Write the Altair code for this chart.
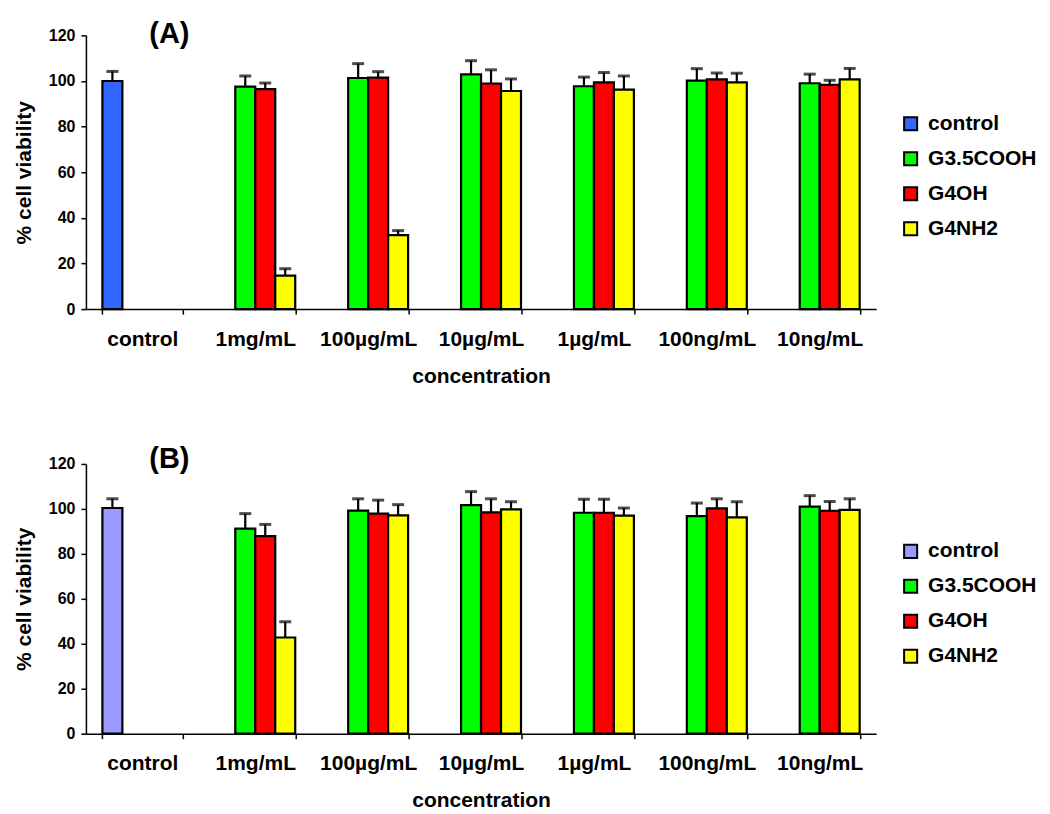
import altair as alt
import pandas as pd

concentrations = ["control", "1mg/mL", "100µg/mL", "10µg/mL", "1µg/mL", "100ng/mL", "10ng/mL"]
doses = concentrations[1:]
series_order = ["control", "G3.5COOH", "G4OH", "G4NH2"]

# Panel A
a_control = [100.0]
a_control_err = [4.2]
a_g35 = [97.5, 101.3, 102.9, 97.7, 100.2, 99.0]
a_g35_err = [4.7, 6.3, 6.0, 4.0, 5.2, 4.0]
a_g4oh = [96.4, 101.5, 98.9, 99.4, 100.7, 98.3]
a_g4oh_err = [2.7, 2.6, 6.0, 4.3, 2.8, 2.0]
a_g4nh2 = [14.7, 32.4, 95.6, 96.2, 99.4, 100.7]
a_g4nh2_err = [3.0, 2.0, 5.3, 6.0, 4.0, 4.8]

# Panel B
b_control = [100.4]
b_control_err = [4.1]
b_g35 = [91.2, 99.2, 101.7, 98.3, 96.8, 101.0]
b_g35_err = [6.7, 5.3, 6.0, 6.0, 5.8, 4.9]
b_g4oh = [87.9, 97.9, 98.5, 98.3, 100.2, 99.1]
b_g4oh_err = [5.2, 6.0, 6.0, 6.0, 4.3, 4.2]
b_g4nh2 = [42.8, 97.1, 99.8, 97.0, 96.2, 99.6]
b_g4nh2_err = [7.0, 4.8, 3.4, 3.4, 7.0, 4.9]

colors_a = ["#3366FF", "#00FF00", "#FF0000", "#FFFF00"]
colors_b = ["#9999FF", "#00FF00", "#FF0000", "#FFFF00"]

FONT = "Liberation Sans"


def make_df(ctrl, ctrl_err, g35, g35_err, g4oh, g4oh_err, g4nh2, g4nh2_err):
    rows = [{"conc": "control", "series": "control", "value": ctrl[0], "err": ctrl_err[0]}]
    for name, vals, errs in [("G3.5COOH", g35, g35_err), ("G4OH", g4oh, g4oh_err), ("G4NH2", g4nh2, g4nh2_err)]:
        for d, v, e in zip(doses, vals, errs):
            rows.append({"conc": d, "series": name, "value": v, "err": e})
    return pd.DataFrame(rows)


def panel(df, colors, label, label_y, legend_y, height):
    base = alt.Chart(df).transform_calculate(top="datum.value + datum.err")
    x = alt.X(
        "conc:N",
        sort=concentrations,
        scale=alt.Scale(paddingInner=0.292, paddingOuter=0.146),
        axis=alt.Axis(
            title="concentration",
            labelAngle=0,
            tickBand="extent",
            tickSize=5,
            labelPadding=14,
            titlePadding=16,
            labelFontSize=21,
            titleFontSize=21,
        ),
    )
    xo = alt.XOffset("series:N", sort=series_order, scale=alt.Scale(domain=series_order, paddingInner=0, paddingOuter=0))
    y = alt.Y(
        "value:Q",
        scale=alt.Scale(domain=[0, 120], nice=False),
        axis=alt.Axis(
            title="% cell viability",
            values=[0, 20, 40, 60, 80, 100, 120],
            tickSize=5,
            labelPadding=6,
            titlePadding=14,
            labelFontSize=16,
            titleFontSize=21,
            grid=False,
        ),
    )
    color = alt.Color(
        "series:N",
        scale=alt.Scale(domain=series_order, range=colors),
        title=None,
        legend=alt.Legend(
            orient="none",
            legendX=815,
            legendY=legend_y,
            symbolType="square",
            symbolSize=170,
            symbolStrokeColor="black",
            symbolStrokeWidth=2,
            labelFontSize=21,
            labelFont=FONT,
            labelFontWeight="bold",
            labelColor="black",
            labelOffset=7,
            rowPadding=12,
            padding=0,
        ),
    )
    bars = base.mark_bar(stroke="black", strokeWidth=2.2).encode(x=x, xOffset=xo, y=y, color=color)
    rules = base.mark_rule(color="black", strokeWidth=2.2).encode(x=x, xOffset=xo, y="value:Q", y2="top:Q")
    caps = base.mark_tick(color="black", thickness=3, size=12).encode(x=x, xOffset=xo, y="top:Q")
    text = alt.Chart(pd.DataFrame({"t": [label]})).mark_text(
        font=FONT, fontSize=29, fontWeight="bold", color="black", align="center", baseline="middle"
    ).encode(text="t:N", x=alt.value(83.5), y=alt.value(label_y))
    return alt.layer(bars, rules, caps, text).properties(width=791, height=height)


df_a = make_df(a_control, a_control_err, a_g35, a_g35_err, a_g4oh, a_g4oh_err, a_g4nh2, a_g4nh2_err)
df_b = make_df(b_control, b_control_err, b_g35, b_g35_err, b_g4oh, b_g4oh_err, b_g4nh2, b_g4nh2_err)

chart_a = panel(df_a, colors_a, "(A)", -1, 78, 274)
chart_b = panel(df_b, colors_b, "(B)", -5, 77, 270)

chart = (
    alt.vconcat(chart_a, chart_b, spacing=59)
    .resolve_scale(color="independent")
    .resolve_legend(color="independent")
    .properties(padding={"left": 5, "top": 12, "right": 5, "bottom": 5})
    .configure_view(stroke=None)
    .configure_axis(
        labelFont=FONT,
        titleFont=FONT,
        labelFontWeight="bold",
        titleFontWeight="bold",
        labelColor="black",
        titleColor="black",
        domainColor="black",
        tickColor="black",
        domainWidth=1.5,
        tickWidth=1.5,
    )
)

chart.save("out.html", embed_options={"renderer": "svg", "actions": False})
